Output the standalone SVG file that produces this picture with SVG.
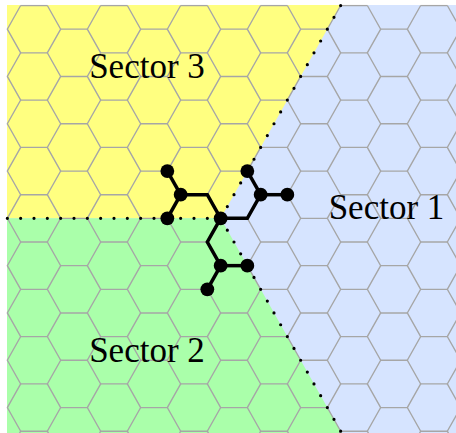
<svg xmlns="http://www.w3.org/2000/svg" xmlns:xlink="http://www.w3.org/1999/xlink" width="456" height="433" viewBox="0 0 456 433">
<style>
.grid{fill:none;stroke:#a6a6a6;stroke-width:1.35}
.dots{fill:none;stroke:#000;stroke-width:3.2;stroke-linecap:round}
.bond{fill:none;stroke:#000;stroke-width:3.5;stroke-linejoin:miter}
.atom{fill:#000}
.lbl{font-family:"Liberation Serif","DejaVu Serif",serif;font-size:35px;fill:#000;text-anchor:middle}
</style>
<defs>
<clipPath id="area"><rect x="6.8" y="4.8" width="460" height="440"/></clipPath>
<path id="zzL" d="M0,0l-13.333,23.65 13.333,23.65 -13.333,23.65 13.333,23.65 -13.333,23.65 13.333,23.65 -13.333,23.65 13.333,23.65 -13.333,23.65 13.333,23.65 -13.333,23.65 13.333,23.65 -13.333,23.65 13.333,23.65 -13.333,23.65 13.333,23.65 -13.333,23.65 13.333,23.65 -13.333,23.65 13.333,23.65"/>
<path id="zzR" d="M0,0l13.333,23.65 -13.333,23.65 13.333,23.65 -13.333,23.65 13.333,23.65 -13.333,23.65 13.333,23.65 -13.333,23.65 13.333,23.65 -13.333,23.65 13.333,23.65 -13.333,23.65 13.333,23.65 -13.333,23.65 13.333,23.65 -13.333,23.65 13.333,23.65 -13.333,23.65 13.333,23.65 -13.333,23.65"/>
<path id="he" d="M20.667,0h26.667M100.667,0h26.667M180.667,0h26.667M260.667,0h26.667M340.667,0h26.667M420.667,0h26.667"/>
<path id="ho" d="M-19.333,0h26.667M60.667,0h26.667M140.667,0h26.667M220.667,0h26.667M300.667,0h26.667M380.667,0h26.667"/>
</defs>
<g id="sectors">
<rect x="7" y="5" width="449" height="428" fill="#d6e4ff"/>
<polygon points="7,5 340.95,5 220.667,218.35 7,218.35" fill="#ffff80"/>
<polygon points="7,218.35 220.667,218.35 341.7,433 7,433" fill="#aaffaa"/>
</g>
<g id="hexgrid" class="grid" clip-path="url(#area)">
<use xlink:href="#zzL" x="20.667" y="5.5"/>
<use xlink:href="#zzL" x="100.667" y="5.5"/>
<use xlink:href="#zzL" x="180.667" y="5.5"/>
<use xlink:href="#zzL" x="260.667" y="5.5"/>
<use xlink:href="#zzL" x="340.667" y="5.5"/>
<use xlink:href="#zzL" x="420.667" y="5.5"/>
<use xlink:href="#zzR" x="47.333" y="5.5"/>
<use xlink:href="#zzR" x="127.333" y="5.5"/>
<use xlink:href="#zzR" x="207.333" y="5.5"/>
<use xlink:href="#zzR" x="287.333" y="5.5"/>
<use xlink:href="#zzR" x="367.333" y="5.5"/>
<use xlink:href="#zzR" x="447.333" y="5.5"/>
<use xlink:href="#he" y="5.5"/>
<use xlink:href="#he" y="52.8"/>
<use xlink:href="#he" y="100.1"/>
<use xlink:href="#he" y="147.4"/>
<use xlink:href="#he" y="194.7"/>
<use xlink:href="#he" y="242"/>
<use xlink:href="#he" y="289.3"/>
<use xlink:href="#he" y="336.6"/>
<use xlink:href="#he" y="383.9"/>
<use xlink:href="#he" y="431.2"/>
<use xlink:href="#ho" y="29.15"/>
<use xlink:href="#ho" y="76.45"/>
<use xlink:href="#ho" y="123.75"/>
<use xlink:href="#ho" y="171.05"/>
<use xlink:href="#ho" y="218.35"/>
<use xlink:href="#ho" y="265.65"/>
<use xlink:href="#ho" y="312.95"/>
<use xlink:href="#ho" y="360.25"/>
<use xlink:href="#ho" y="407.55"/>
</g>
<g id="boundaries">
<path class="dots" d="M220.667,218.35H7.333" stroke-dasharray="0 13.333"/>
<path class="dots" d="M220.667,218.35L340.667,5.5" stroke-dasharray="0 13.573"/>
<path class="dots" d="M220.667,218.35L340.667,431.2" stroke-dasharray="0 13.573"/>
</g>
<g id="labels">
<text id="sector3" class="lbl" x="147" y="77.5">Sector 3</text>
<text id="sector2" class="lbl" x="147" y="361.5">Sector 2</text>
<text id="sector1" class="lbl" x="386.5" y="219.3">Sector 1</text>
</g>
<g id="connectors" class="bond">
<polyline points="167.333,171.05 180.667,194.7"/>
<polyline points="180.667,194.7 167.333,218.35"/>
<polyline points="180.667,194.7 207.333,194.7 220.667,218.35"/>
<polyline points="220.667,218.35 247.333,218.35 260.667,194.7"/>
<polyline points="260.667,194.7 247.333,171.05"/>
<polyline points="260.667,194.7 287.333,194.7"/>
<polyline points="220.667,218.35 207.333,242 220.667,265.65"/>
<polyline points="220.667,265.65 247.333,265.65"/>
<polyline points="220.667,265.65 207.333,289.3"/>
</g>
<g id="atomA"><circle class="atom" cx="167.333" cy="171.05" r="6.9"/></g>
<g id="atomB"><circle class="atom" cx="180.667" cy="194.7" r="6.9"/></g>
<g id="atomC"><circle class="atom" cx="167.333" cy="218.35" r="6.9"/></g>
<g id="atomD"><circle class="atom" cx="220.667" cy="218.35" r="6.9"/></g>
<g id="atomE"><circle class="atom" cx="247.333" cy="171.05" r="6.9"/></g>
<g id="atomF"><circle class="atom" cx="260.667" cy="194.7" r="6.9"/></g>
<g id="atomG"><circle class="atom" cx="287.333" cy="194.7" r="6.9"/></g>
<g id="atomH"><circle class="atom" cx="220.667" cy="265.65" r="6.9"/></g>
<g id="atomI"><circle class="atom" cx="247.333" cy="265.65" r="6.9"/></g>
<g id="atomJ"><circle class="atom" cx="207.333" cy="289.3" r="6.9"/></g>
</svg>
